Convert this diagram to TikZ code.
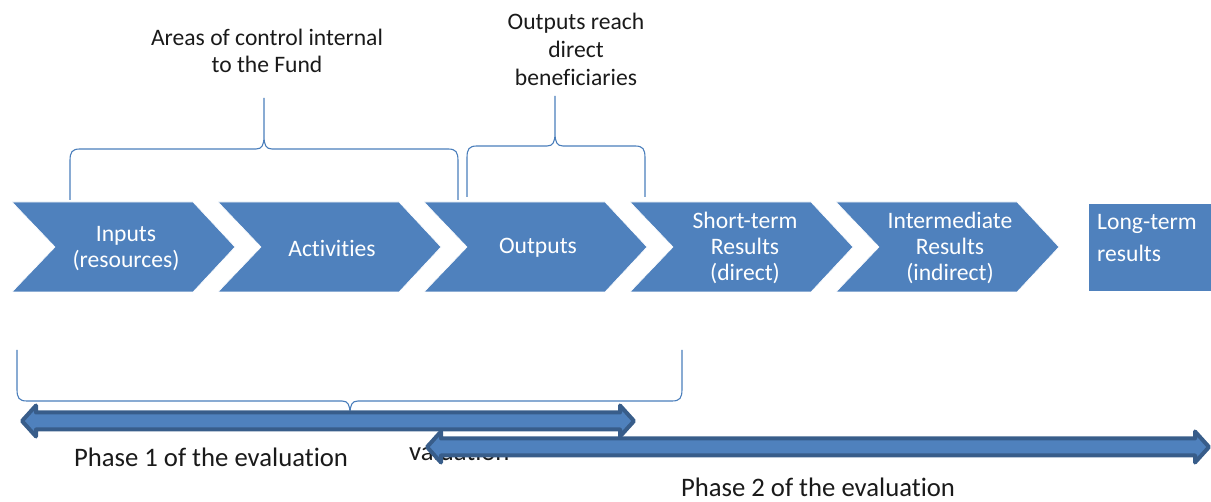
\documentclass[tikz,border=0pt]{standalone}
\usepackage{fontspec}
\setmainfont{Carlito}[Ligatures=NoCommon]
\definecolor{boxblue}{HTML}{4F81BD}
\definecolor{edgeblue}{HTML}{385D8A}
\definecolor{braceblue}{HTML}{4A7EBB}
\definecolor{txt}{HTML}{1A1A1A}
\begin{document}
\begin{tikzpicture}[x=1pt,y=-1pt,
  chev/.style={fill=boxblue,draw=white,line width=0.6pt},
  chevtext/.style={text=white,align=center,font=\fontsize{23.6}{26}\selectfont,inner sep=0pt},
  lbl/.style={text=txt,align=center,font=\fontsize{23.6}{27}\selectfont,inner sep=0pt},
  biglbl/.style={text=txt,align=center,font=\fontsize{26.7}{30}\selectfont,inner sep=0pt},
  bracel/.style={draw=braceblue,line width=1.1pt},
  dblarrow/.style={fill=boxblue,draw=edgeblue,line width=4pt,line join=round}]
\useasboundingbox (0,0) rectangle (1211,502);
% chevrons
\foreach \s in {12,218,424,630,836}{
  \path[chev] (\s,202) -- (\s+181,202) -- (\s+223,247) -- (\s+181,292) -- (\s,292) -- (\s+43,247) -- cycle;
}
\path[chev] (1088,203) rectangle (1215,291);
\node[chevtext] (inputs) at (126,249) {Inputs\\(resources)};
\node[chevtext] (activities) at (332,248) {Activities};
\node[chevtext] (outputs) at (538,248) {Outputs};
\node[chevtext] (short) at (745,248) {Short-term\\Results\\(direct)};
\node[chevtext] (inter) at (950,248) {Intermediate\\Results\\(indirect)};
\node[chevtext,align=left,anchor=north west,font=\fontsize{23.6}{32}\selectfont] (long) at (1097,214) {Long-term\\results};
% top labels
\node[lbl] (areas) at (267,51) {Areas of control internal\\to the Fund};
\node[lbl,font=\fontsize{23.6}{28}\selectfont] (reach) at (576,49) {Outputs reach\\direct\\beneficiaries};
% braces
\draw[bracel] (70,200) -- (70,161) .. controls (70,152) and (72,149) .. (80,149) -- (256,149)
  .. controls (262,149) and (264,145) .. (264,136) -- (264,98)
  (264,136) .. controls (264,145) and (266,149) .. (272,149) -- (448,149)
  .. controls (456,149) and (458,152) .. (458,161) -- (458,200);
\draw[bracel] (467,197) -- (467,158) .. controls (467,149) and (469,146) .. (477,146) -- (547,146)
  .. controls (553,146) and (555,142) .. (555,133) -- (555,96)
  (555,133) .. controls (555,142) and (557,146) .. (563,146) -- (635,146)
  .. controls (643,146) and (645,149) .. (645,158) -- (645,197);
\draw[bracel] (17,350) -- (17,389) .. controls (17,398) and (19,401) .. (27,401) -- (342,401)
  .. controls (348,401) and (350,405) .. (350,414) -- (350,425)
  (350,414) .. controls (350,405) and (352,401) .. (358,401) -- (672,401)
  .. controls (680,401) and (682,398) .. (682,389) -- (682,350);
% phase 1 arrow
\path[dblarrow] (22,421) -- (36,405.5) -- (36,412.5) -- (620,412.5) -- (620,405.5) -- (634,421)
  -- (620,436.5) -- (620,429.5) -- (36,429.5) -- (36,436.5) -- cycle;
% hidden label fragment
\node[biglbl,anchor=west] (frag) at (409,451) {valuation};
% phase 1 label with white box
\fill[white] (53,432) rectangle (409,472);
\node[biglbl] (phase1) at (211,457) {Phase 1 of the evaluation};
% phase 2 arrow
\path[dblarrow] (427,447) -- (441,431.5) -- (441,438.5) -- (1195,438.5) -- (1195,431.5) -- (1209,447)
  -- (1195,462.5) -- (1195,455.5) -- (441,455.5) -- (441,462.5) -- cycle;
\node[biglbl] (phase2) at (818,487) {Phase 2 of the evaluation};
\end{tikzpicture}
\end{document}
